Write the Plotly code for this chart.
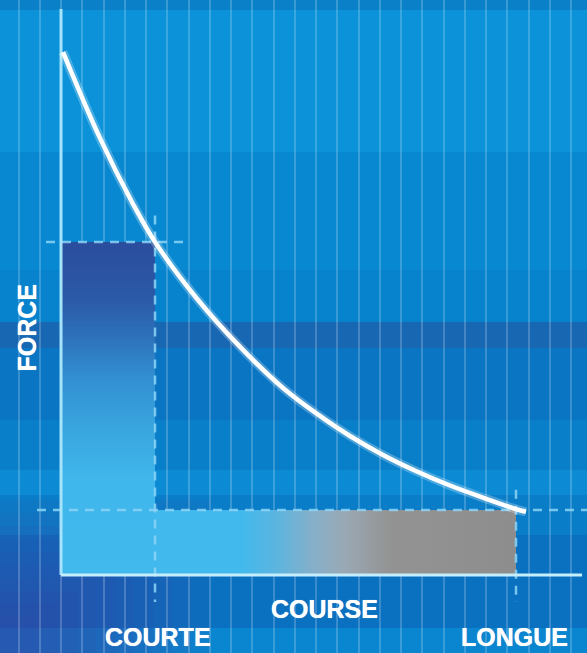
import plotly.graph_objects as go

# ---------------- data (grid units: one unit = one vertical grid step) -------------
course = [0.094, 1.835, 3.388, 4.424, 6.400, 8.518, 10.447, 12.047, 13.600,
          15.153, 16.753, 18.306, 19.859, 21.412, 21.882]
force = [24.61, 20.56, 17.46, 15.67, 13.00, 10.64, 8.80, 7.58, 6.54,
         5.65, 4.87, 4.21, 3.64, 3.10, 2.97]

marker_labels = ["COURTE", "LONGUE"]
marker_course = [4.424, 21.412]
marker_force = [15.67, 3.06]

x_title = "COURSE"
y_title = "FORCE"

X_RANGE = [-2.871, 24.753]
Y_RANGE = [-3.671, 27.059]
W, H = 587, 653

fig = go.Figure()

# ---------------- background bands (style) ----------------
bands = [
    (0, 10, "#0a80c9"), (10, 152, "#0b92d9"), (152, 270, "#0888d1"),
    (270, 322, "#0783cd"), (322, 348, "#1767b3"), (348, 420, "#0975c3"),
    (420, 470, "#0a7fc9"), (470, 495, "#0c8ad4"), (495, 535, "#0a7dc8"),
    (535, 628, "#0a70c0"), (628, 653, "#0a85cf"),
]
shapes = []
for y0, y1, c in bands:
    shapes.append(dict(type="rect", xref="paper", yref="paper", x0=0, x1=1,
                       y0=1 - y1 / H, y1=1 - y0 / H, fillcolor=c,
                       line=dict(width=0), layer="below"))
# soft navy shading in lower-left corner
n_steps = 10
for i in range(n_steps):
    x1 = 210 - i * 19
    y0 = 500 + i * 13
    shapes.append(dict(type="rect", xref="paper", yref="paper", x0=0, x1=x1 / W,
                       y0=0, y1=1 - y0 / H, fillcolor="rgba(70,50,150,0.07)",
                       line=dict(width=0), layer="below"))

# ---------------- shaded areas ----------------
cx, lx = marker_course
cf, lf = marker_force
fig.add_trace(go.Scatter(
    x=[0, cx, cx, 0, 0], y=[0, 0, cf, cf, 0], mode="lines", fill="toself",
    line=dict(width=0), hoverinfo="skip", showlegend=False,
    fillgradient=dict(type="vertical", colorscale=[
        [0, "#41b9ed"], [0.285, "#40b7ec"], [0.345, "#3db0e6"], [0.465, "#38a2dd"],
        [0.586, "#3290d2"], [0.736, "#2d6db7"], [0.826, "#2b5aa8"], [1, "#2a4d9c"]]),
))
fig.add_trace(go.Scatter(
    x=[cx, lx, lx, cx, cx], y=[0, 0, lf, lf, 0], mode="lines", fill="toself",
    line=dict(width=0), hoverinfo="skip", showlegend=False,
    fillgradient=dict(type="horizontal", colorscale=[
        [0, "#41b9ed"], [0.235, "#41b9ed"], [0.33, "#5ab5e0"], [0.44, "#86afc9"],
        [0.53, "#9aa8b3"], [0.65, "#939393"], [1, "#8d8d8d"]]),
))

# ---------------- dashed reference lines ----------------
dash_style = dict(color="rgba(140,212,246,0.85)", width=2.5, dash="9px,7px")
ref_lines = [
    ([-0.706, cx + 1.65], [cf, cf]),
    ([cx, cx], [cf + 1.25, -1.27]),
    ([-1.13, X_RANGE[1]], [lf, lf]),
    ([lx, lx], [lf + 0.95, -1.27]),
]
for xs, ys in ref_lines:
    fig.add_trace(go.Scatter(x=xs, y=ys, mode="lines", line=dash_style,
                             hoverinfo="skip", showlegend=False))

# ---------------- axis lines ----------------
fig.add_trace(go.Scatter(x=[0, 0], y=[0, 26.64], mode="lines",
                         line=dict(color="#a6e4fb", width=3),
                         hoverinfo="skip", showlegend=False))
fig.add_trace(go.Scatter(x=[0, 24.52], y=[0, 0], mode="lines",
                         line=dict(color="#c4eefc", width=3),
                         hoverinfo="skip", showlegend=False))

# ---------------- curve ----------------
fig.add_trace(go.Scatter(x=course, y=force, mode="lines",
                         line=dict(color="rgba(255,255,255,0.25)", width=9, shape="spline"),
                         hoverinfo="skip", showlegend=False))
fig.add_trace(go.Scatter(x=course, y=force, mode="lines",
                         line=dict(color="#ffffff", width=4.5, shape="spline"),
                         hoverinfo="skip", showlegend=False))

# ---------------- labels ----------------
font = dict(family="Liberation Sans, Arial, sans-serif", size=25, color="white",
            weight="bold", shadow="0px 0px 0.7px #ffffff")
annotations = [
    dict(x=12.42, y=-1.6, text=x_title, xref="x", yref="y", showarrow=False, font=font),
    dict(x=-1.576, y=11.62, text=y_title, xref="x", yref="y", showarrow=False,
         textangle=-90, font=font),
    dict(x=cx + 0.15, y=-2.94, text=marker_labels[0], xref="x", yref="y",
         showarrow=False, font=font),
    dict(x=lx - 0.05, y=-2.94, text=marker_labels[1], xref="x", yref="y",
         showarrow=False, font=font),
]

fig.update_layout(
    width=W, height=H, margin=dict(l=0, r=0, t=0, b=0),
    paper_bgcolor="#0a88d0", plot_bgcolor="rgba(0,0,0,0)",
    shapes=shapes, annotations=annotations, showlegend=False,
    xaxis=dict(range=X_RANGE, showgrid=True, tick0=0, dtick=1,
               gridcolor="rgba(255,255,255,0.2)", gridwidth=2,
               showticklabels=False, zeroline=False, ticks="", fixedrange=True),
    yaxis=dict(range=Y_RANGE, showgrid=False, showticklabels=False,
               zeroline=False, ticks="", fixedrange=True),
)

fig.write_html("out.html")
